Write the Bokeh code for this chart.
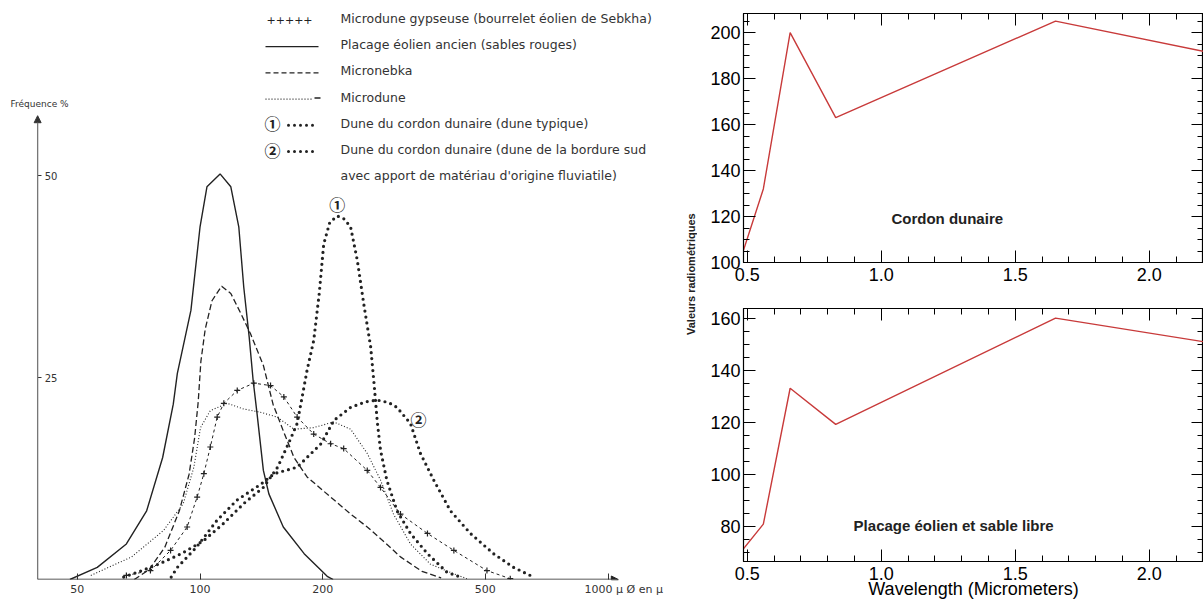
import math
from bokeh.plotting import figure
from bokeh.models import (Label, Arrow, NormalHead, FixedTicker, LinearAxis,
                          SingleIntervalTicker, PrintfTickFormatter)
from bokeh.layouts import row, column
from bokeh.embed import file_html
from bokeh.resources import INLINE

# ---------------- data: grain-size curves (x in micrometres, y in %) -------------
placage_x = [48, 56, 66, 74, 81, 86, 88, 95, 100, 104, 112, 119, 124.5, 128, 132, 135,
             138, 143, 147.5, 160, 180, 205, 212]
placage_y = [0, 1.5, 4.4, 8.5, 15.1, 21.7, 25.5, 33.3, 43.6, 48.6, 50.2, 48.6, 43.6, 36.2,
             30.0, 24.6, 20.5, 13.5, 10.6, 6.5, 3.2, 0.4, 0]

micronebka_x = [69, 75, 82, 89, 94, 97, 99, 100.5, 103, 107, 113, 119, 126, 133, 143, 151,
                160, 170, 183, 209, 234, 257, 285, 310, 350, 390]
micronebka_y = [0, 1.2, 4.0, 8.5, 13.0, 17.5, 22.0, 27.0, 31.0, 34.5, 36.3, 35.4, 32.9, 30.4,
                26.5, 21.7, 18.4, 15.1, 12.7, 10.2, 8.1, 6.5, 4.5, 2.8, 1.0, 0.2]

microdune_x = [54, 68, 81.5, 91, 96.6, 100.3, 106, 116.6, 128, 140.6, 154.6, 170, 190,
               212.8, 234, 257, 277, 298, 328, 367, 419, 451]
microdune_y = [0.5, 2.8, 6.1, 9.4, 13.9, 18.8, 20.9, 21.8, 21.1, 20.7, 20.1, 18.6, 18.8,
               19.5, 18.6, 15.6, 12.3, 8.1, 4.4, 1.9, 0.7, 0.1]

gypseuse_x = [66, 75.6, 84.7, 93, 98.4, 102.2, 106, 110.2, 114.4, 123.4, 135.5, 148.9, 160.5,
              173, 190, 209, 225, 257, 277, 310, 361, 419, 505, 576]
gypseuse_y = [0.5, 1.1, 3.6, 6.5, 10.2, 13.1, 16.4, 20.1, 21.8, 23.4, 24.3, 24.0, 22.6,
              20.1, 18.0, 16.8, 16.2, 13.5, 11.4, 8.1, 5.7, 3.6, 1.1, 0.1]

dune1_x = [65, 72, 80, 90, 102, 114, 128, 143, 155, 166, 173, 178, 183, 190, 196, 201, 208,
           217, 226, 234, 243, 252, 262, 267, 272, 277, 287, 304, 328, 361, 403, 435]
dune1_y = [0.3, 1.1, 2.0, 3.2, 4.8, 6.9, 9.4, 11.4, 13.9, 17.2, 19.3, 22.6, 25.9, 29.6, 35.4,
           41.5, 44.2, 45.0, 44.6, 43.6, 39.5, 34.1, 28.8, 24.3, 19.5, 16.0, 12.3, 8.5, 5.7,
           3.2, 0.9, 0.3]

dune2_x = [85, 88, 98, 110, 123, 141, 152, 173, 198, 213, 234, 255, 272, 290, 304, 328, 347,
           374, 411, 460, 524, 587, 645]
dune2_y = [0.3, 1.5, 4.0, 7.3, 9.8, 11.8, 13.1, 13.9, 16.8, 19.7, 21.3, 22.0, 22.2, 21.9,
           21.3, 19.3, 15.6, 12.3, 8.5, 5.7, 3.2, 1.5, 0.5]

grain_ticks = [50, 100, 200, 500, 1000]
grain_labels = ["50", "100", "200", "500", "1000 µ Ø en µ"]
freq_ticks = [25, 50]

legend_labels = [
    "Microdune gypseuse (bourrelet éolien de Sebkha)",
    "Placage éolien ancien (sables rouges)",
    "Micronebka",
    "Microdune",
    "Dune du cordon dunaire (dune typique)",
    "Dune du cordon dunaire (dune de la bordure sud",
    "avec apport de matériau d'origine fluviatile)",
]

# ---------------- data: radiometric spectra ---------------------------------------
wavelength = [0.485, 0.56, 0.66, 0.83, 1.65, 2.215]
cordon_vals = [105, 132, 200, 163, 205, 191.5]
placage_vals = [71.4, 81, 133.3, 119.4, 160.3, 151]

# ---------------- layout helpers (page pixels -> left-chart data) ------------------
def lx(px):
    return 10 ** (2 + (px - 199.5) / 408.0)

def ly(py):
    return (579 - py) / 8.08

INK = "#222222"
TXT = "#333333"
LFONT = "DejaVu Sans"

H = 603
WL = 680
RB = 22          # right border of left chart (holds the y tick labels)
pL = figure(width=WL, height=H, x_axis_type="log",
            x_range=(lx(0), lx(WL - RB)), y_range=(0, ly(0)),
            y_axis_location="right",
            output_backend="svg", toolbar_location=None,
            min_border_left=0, min_border_right=RB, min_border_top=0, min_border_bottom=H - 579)
pL.outline_line_color = None
pL.xgrid.visible = False
pL.ygrid.visible = False

xa = pL.xaxis[0]
xa.ticker = FixedTicker(ticks=grain_ticks)
pad = "\u00a0" * 9
xa.major_label_overrides = {t: (pad + s if t == 1000 else s)
                            for t, s in zip(grain_ticks, grain_labels)}
xa.axis_line_color = None
xa.major_tick_in = 6
xa.major_tick_out = 0
xa.major_tick_line_color = TXT
xa.major_label_standoff = 3
xa.major_label_text_font = LFONT
xa.major_label_text_font_size = "11px"
xa.major_label_text_color = TXT

ya = pL.yaxis[0]
ya.fixed_location = 40
ya.ticker = FixedTicker(ticks=freq_ticks)
ya.axis_line_color = None
ya.major_tick_in = 0
ya.major_tick_out = 4
ya.major_tick_line_color = TXT
ya.major_label_standoff = 3
ya.major_label_text_font = LFONT
ya.major_label_text_font_size = "10px"
ya.major_label_text_color = TXT

# axis lines with arrow heads
pL.add_layout(Arrow(end=NormalHead(size=7, fill_color=TXT, line_color=TXT),
                    x_start=40, y_start=0, x_end=40, y_end=57.4,
                    line_color="#777777", line_width=1.3))
pL.add_layout(Arrow(end=NormalHead(size=7, fill_color=INK, line_color=INK),
                    x_start=40, y_start=0, x_end=1060, y_end=0,
                    line_color=INK, line_width=1.6))

# curves
pL.line(placage_x, placage_y, line_color=INK, line_width=1.4)
pL.line(micronebka_x, micronebka_y, line_color=INK, line_width=1.3, line_dash="6 3")
pL.line(microdune_x, microdune_y, line_color=INK, line_width=1.1, line_dash="1 2")
pL.line(gypseuse_x, gypseuse_y, line_color=INK, line_width=1.0, line_dash="3 3")
pL.scatter(gypseuse_x, gypseuse_y, marker="cross", size=6, line_color=INK, line_width=1.2)
pL.line(dune1_x, dune1_y, line_color=INK, line_width=3.2, line_dash="0 6", line_cap="round")
pL.line(dune2_x, dune2_y, line_color=INK, line_width=3.2, line_dash="0 6", line_cap="round")

CIRC_FONT = "Noto Sans CJK JP"
pL.add_layout(Label(x=217, y=ly(203), text="①", text_align="center", text_baseline="middle",
                    text_font=CIRC_FONT, text_font_size="16px", text_font_style="bold",
                    text_color=INK))
pL.add_layout(Label(x=343, y=ly(418), text="②", text_align="center", text_baseline="middle",
                    text_font=CIRC_FONT, text_font_size="16px", text_font_style="bold",
                    text_color=INK))

# axis caption
pL.add_layout(Label(x=lx(10), y=ly(103), text="Fréquence %", text_baseline="middle",
                    text_font=LFONT, text_font_size="9px", text_color=TXT))

# legend block
rows_y = [18 + 26.2 * i for i in range(7)]
for i, lab in enumerate(legend_labels):
    pL.add_layout(Label(x=lx(340), y=ly(rows_y[i]), text=lab, text_baseline="middle",
                        text_font=LFONT, text_font_size="12.5px", text_color=TXT))
pL.add_layout(Label(x=lx(266), y=ly(rows_y[0] + 1), text="+++++", text_baseline="middle",
                    text_font=LFONT, text_font_size="11px", text_color=INK))
pL.line([lx(265), lx(318)], [ly(rows_y[1] + 2)] * 2, line_color=INK, line_width=1.3)
pL.line([lx(265), lx(318)], [ly(rows_y[2] + 2)] * 2, line_color=INK, line_width=1.2,
        line_dash="5 3")
pL.line([lx(265), lx(312)], [ly(rows_y[3] + 2)] * 2, line_color=INK, line_width=1.1,
        line_dash="1 2")
pL.line([lx(314), lx(320)], [ly(rows_y[3] + 1)] * 2, line_color=INK, line_width=1.5)
for k in (4, 5):
    pL.add_layout(Label(x=lx(272), y=ly(rows_y[k]), text="①" if k == 4 else "②",
                        text_align="center", text_baseline="middle",
                        text_font=CIRC_FONT, text_font_size="16px", text_font_style="bold",
                        text_color=INK))
    pL.line([lx(288), lx(316)], [ly(rows_y[k] + 2)] * 2, line_color=INK, line_width=3.0,
            line_dash="0 6", line_cap="round")

# ---------------- narrow strip with shared y label --------------------------------
pY = figure(width=17, height=H, x_range=(0, 17), y_range=(0, H), output_backend="svg",
            toolbar_location=None, x_axis_location=None, y_axis_location=None,
            min_border=0)
pY.outline_line_color = None
pY.xgrid.visible = False
pY.ygrid.visible = False
pY.add_layout(Label(x=10, y=H - 285, text="Valeurs radiométriques", angle=math.pi / 2,
                    text_align="center", text_baseline="middle", text_font_style="bold",
                    text_font="Liberation Sans", text_font_size="11px",
                    text_color="#222222"))

# ---------------- spectra panels ----------------------------------------------------
RED = "#c83a3a"
SFONT = "Liberation Sans"
WR = 1203 - 697


def style_panel(p):
    p.xgrid.visible = False
    p.ygrid.visible = False
    p.outline_line_color = "black"
    p.outline_line_width = 1.2
    xt = dict(interval=0.5, num_minor_ticks=5)
    yt = dict(interval=20, num_minor_ticks=4)
    p.below[0].ticker = SingleIntervalTicker(**xt)
    p.below[0].formatter = PrintfTickFormatter(format="%.1f")
    p.left[0].ticker = SingleIntervalTicker(**yt)
    p.add_layout(LinearAxis(ticker=SingleIntervalTicker(**xt)), "above")
    p.add_layout(LinearAxis(ticker=SingleIntervalTicker(**yt)), "right")
    for ax in p.axis:
        ax.axis_line_color = "black"
        ax.major_tick_in = 12
        ax.major_tick_out = 0
        ax.minor_tick_in = 6
        ax.minor_tick_out = 0
        ax.major_tick_line_color = "black"
        ax.minor_tick_line_color = "black"
        ax.major_label_text_font = SFONT
        ax.major_label_text_font_size = "18px"
        ax.major_label_text_color = "black"
        ax.major_label_standoff = 3
    for ax in p.above + p.right:
        ax.major_label_text_color = None
        ax.major_label_text_font_size = "1px"
        ax.major_label_standoff = 0
    p.below[0].major_label_standoff = 5


pT = figure(width=WR, height=290, x_range=(0.486, 2.202), y_range=(100, 208.3),
            output_backend="svg", toolbar_location=None,
            min_border_left=46, min_border_right=0, min_border_top=13, min_border_bottom=28)
style_panel(pT)
pT.line(wavelength, cordon_vals, line_color=RED, line_width=1.4)
pT.add_layout(Label(x=1.246, y=119, text="Cordon dunaire", text_align="center",
                    text_baseline="middle", text_font=SFONT, text_font_style="bold",
                    text_font_size="15px", text_color="#222222"))

pB = figure(width=WR, height=H - 290, x_range=(0.486, 2.202), y_range=(66.6, 164),
            output_backend="svg", toolbar_location=None,
            min_border_left=46, min_border_right=0, min_border_top=18, min_border_bottom=42)
style_panel(pB)
pB.line(wavelength, placage_vals, line_color=RED, line_width=1.4)
pB.add_layout(Label(x=1.27, y=80.4, text="Placage éolien et sable libre", text_align="center",
                    text_baseline="middle", text_font=SFONT, text_font_style="bold",
                    text_font_size="15px", text_color="#222222"))
bx = pB.below[0]
bx.axis_label = "Wavelength (Micrometers)"
bx.axis_label_text_font = SFONT
bx.axis_label_text_font_size = "18px"
bx.axis_label_text_font_style = "normal"
bx.axis_label_text_color = "black"
bx.axis_label_standoff = -4

layout = row(pL, pY, column(pT, pB))
open("out.html", "w").write(file_html(layout, INLINE))
